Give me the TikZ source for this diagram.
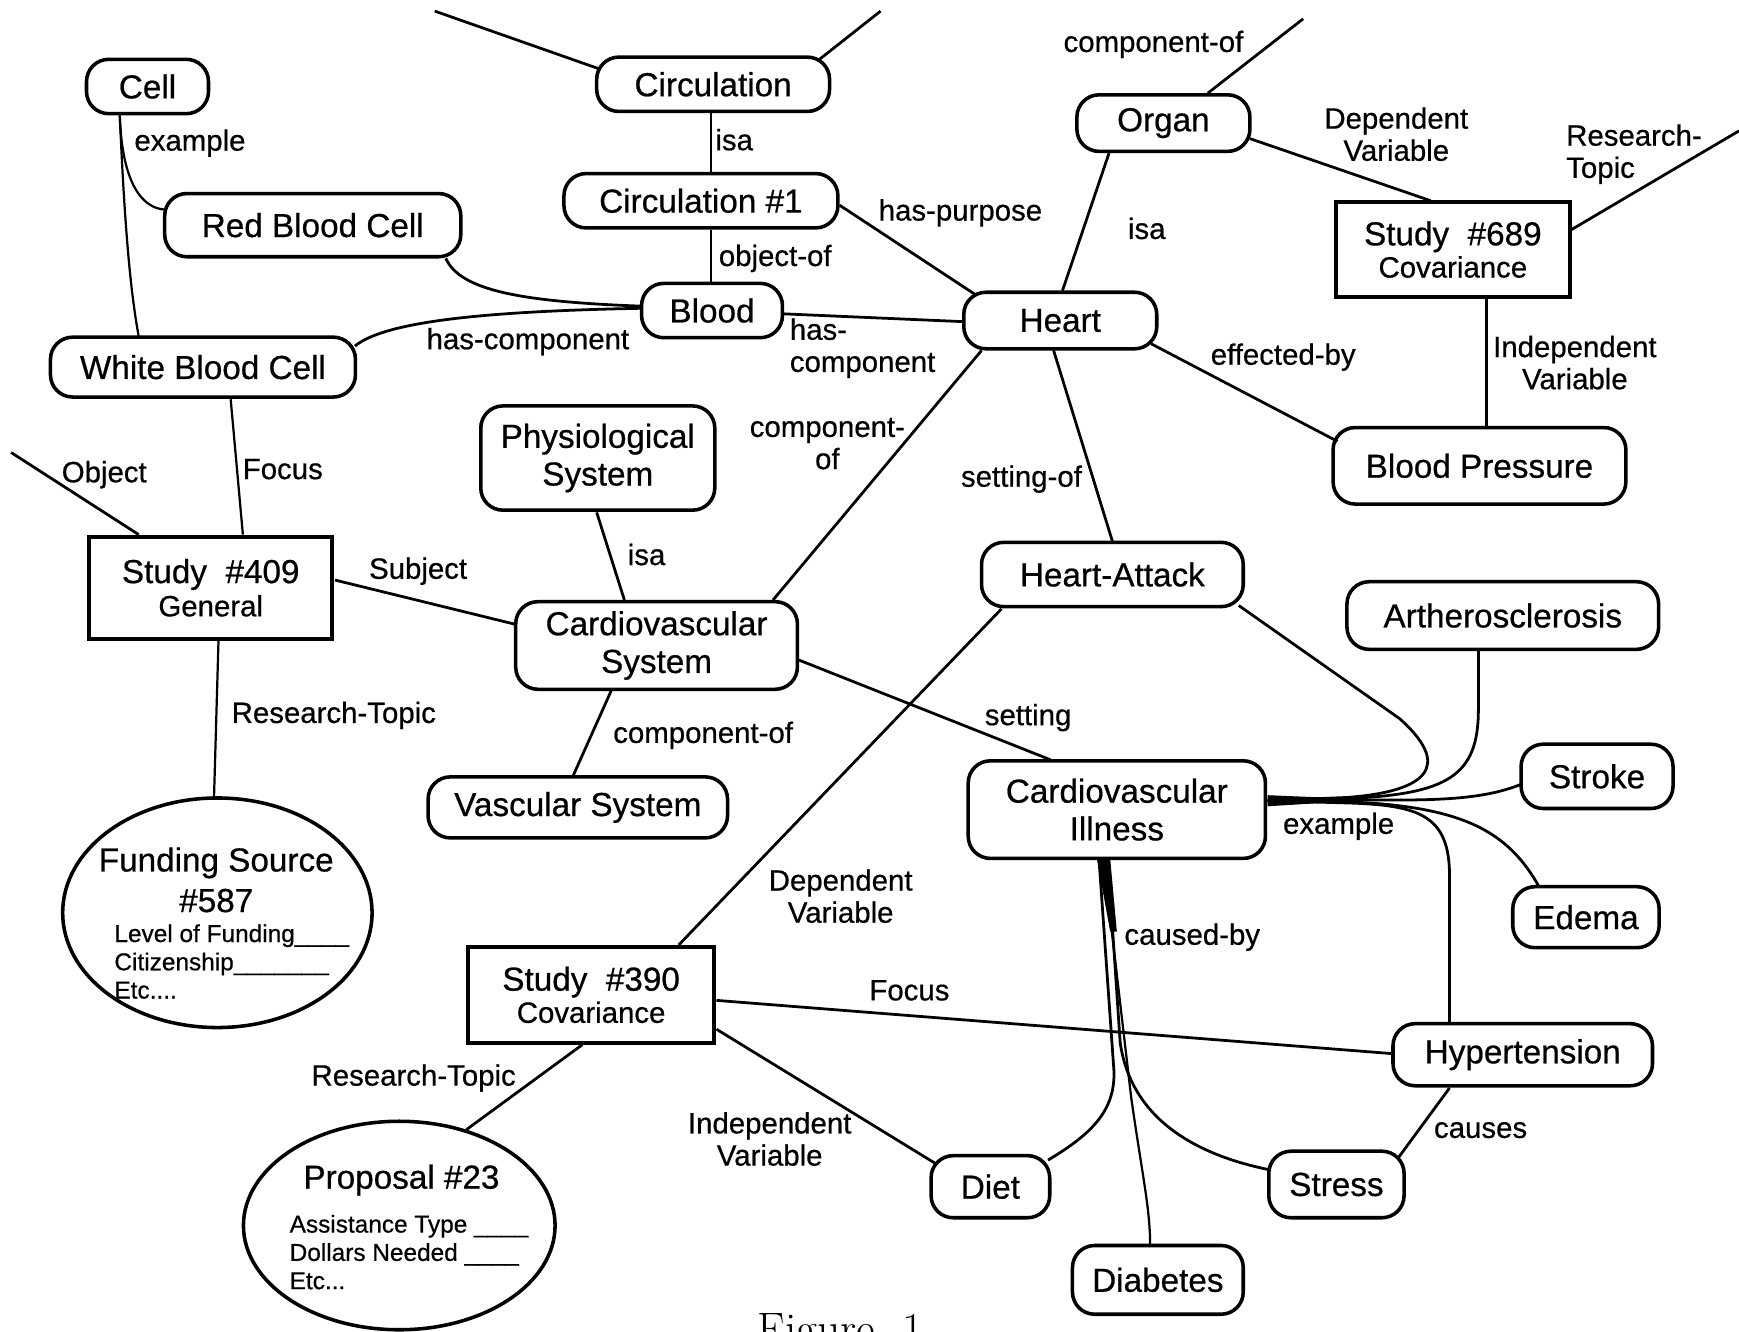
\documentclass[tikz,border=0pt]{standalone}
\usepackage{fontspec}
\newfontfamily\hel[FakeBold=0.6]{Liberation Sans}
\usetikzlibrary{calc,shapes.geometric}
\tikzset{
  rnode/.style={draw, line width=3.2pt, rounded corners=20pt, inner sep=0pt, align=center,
    font=\hel\fontsize{30}{34}\selectfont},
  snode/.style={draw, line width=3.6pt, inner sep=0pt, align=center,
    font=\hel\fontsize{30}{32}\selectfont},
  enode/.style={draw, ellipse, line width=3.2pt, inner sep=0pt},
  big/.style={inner sep=0pt, font=\hel\fontsize{30}{34}\selectfont},
  small/.style={inner sep=0pt, align=left, font=\hel\fontsize{22}{25.5}\selectfont},
  lab/.style={inner sep=0pt, align=center, font=\hel\fontsize{26.5}{29}\selectfont},
  conn/.style={line width=2.5pt},
  thinconn/.style={line width=2pt},
}
\newcommand{\sub}[1]{{\fontsize{26.5}{30}\selectfont #1}}
\begin{document}
\begin{tikzpicture}[x=1pt,y=-1pt]
\useasboundingbox (0,0) rectangle (1568,1201);

% ---------- nodes ----------
\node[rnode, minimum width=110, minimum height=49] (cell) at (133,78) {Cell};
\node[rnode, minimum width=210, minimum height=49] (circ) at (643,76) {Circulation};
\node[rnode, minimum width=247, minimum height=49] (circ1) at (632,181) {Circulation \#1};
\node[rnode, minimum width=267, minimum height=57] (rbc) at (282,203) {Red Blood Cell};
\node[rnode, minimum width=127, minimum height=49] (blood) at (642,280) {Blood};
\node[rnode, minimum width=174, minimum height=51] (heart) at (956,289) {Heart};
\node[rnode, minimum width=156, minimum height=51] (organ) at (1049,111) {Organ};
\node[rnode, minimum width=275, minimum height=54] (wbc) at (183,331) {White Blood Cell};
\node[rnode, minimum width=211, minimum height=94] (phys) at (539,413) {Physiological\\System};
\node[rnode, minimum width=254, minimum height=79] (cvs) at (592,582) {Cardiovascular\\System};
\node[rnode, minimum width=270, minimum height=55] (vas) at (521,728) {Vascular System};
\node[rnode, minimum width=264, minimum height=69] (bp) at (1334,420) {Blood Pressure};
\node[rnode, minimum width=236, minimum height=58] (ha) at (1003,518) {Heart-Attack};
\node[rnode, minimum width=281, minimum height=61] (ath) at (1355,555) {Artherosclerosis};
\node[rnode, minimum width=268, minimum height=88] (cvi) at (1007,730) {Cardiovascular\\Illness};
\node[rnode, minimum width=137, minimum height=58] (stroke) at (1440,700) {Stroke};
\node[rnode, minimum width=132, minimum height=55] (edema) at (1430,827) {Edema};
\node[rnode, minimum width=234, minimum height=56] (hyp) at (1373,951) {Hypertension};
\node[rnode, minimum width=107, minimum height=56] (diet) at (893,1070) {Diet};
\node[rnode, minimum width=122, minimum height=60] (stress) at (1205,1068) {Stress};
\node[rnode, minimum width=154, minimum height=62] (diab) at (1044,1154) {Diabetes};

\node[snode, minimum width=211, minimum height=85] (s689) at (1310,225) {Study\ \ \#689\\[-3pt]\sub{Covariance}};
\node[snode, minimum width=219, minimum height=92] (s409) at (190,530) {Study\ \ \#409\\[-2pt]\sub{General}};
\node[snode, minimum width=222, minimum height=86] (s390) at (533,897) {Study\ \ \#390\\[-3pt]\sub{Covariance}};

\node[enode, minimum width=279, minimum height=207] (fund) at (196,823) {};
\node[big] (fundt1) at (195,778) {Funding Source};
\node[big] (fundt2) at (195,812) {\#587};
\node[small, anchor=west] (fundt3) at (103,867) {Level of Funding\_\_\_\_\\Citizenship\_\_\_\_\_\_\_\\Etc....};

\node[enode, minimum width=281, minimum height=188] (prop) at (360,1105) {};
\node[big] (propt1) at (362,1064) {Proposal \#23};
\node[small, anchor=west] (propt2) at (261,1129) {Assistance Type \_\_\_\_\\Dollars Needed \_\_\_\_\\Etc...};

\node[inner sep=0pt, anchor=base west, font=\fontsize{41}{45}\selectfont] (fig) at (683,1212) {Figure~~1};

% free ends
\coordinate (t1) at (392,10);
\coordinate (t2) at (794,10);
\coordinate (t3) at (1175,17);
\coordinate (t4) at (1568,118);
\coordinate (t5) at (10,408);

% ---------- connectors ----------
\draw[conn] (t1) -- ($(circ)+(-103,-14)$);
\draw[conn] ($(circ)+(94,-21)$) -- (t2);
\draw[conn] ($(circ.south)+(-2,0)$) -- ($(circ1.north)+(9,0)$);
\draw[conn] ($(circ1.south)+(9,0)$) -- ($(blood.north)+(-1,0)$);
\draw[conn] ($(circ1)+(125,4)$) -- ($(heart)+(-76,-23)$);
\draw[conn] ($(blood)+(65,3)$) -- ($(heart)+(-88,1)$);
\draw[thinconn] ($(cell)+(-25,26)$) .. controls (110,165) and (128,188) .. ($(rbc)+(-133,-14)$);
\draw[thinconn] ($(cell)+(-25,26)$) .. controls (113,220) and (119,270) .. ($(wbc)+(-58,-28)$);
\draw[conn] ($(rbc)+(120,30)$) .. controls (415,262) and (470,272) .. ($(blood)+(-65,-4)$);
\draw[conn] ($(wbc)+(137,-19)$) .. controls (345,292) and (420,281) .. ($(blood)+(-65,-2)$);
\draw[conn] ($(organ)+(40,-27)$) -- (t3);
\draw[conn] ($(organ)+(-49,27)$) -- ($(heart)+(2,-27)$);
\draw[conn] ($(organ)+(78,14)$) -- ($(s689)+(-20,-44)$);
\draw[conn] ($(s689)+(107,-18)$) -- (t4);
\draw[conn] ($(s689)+(30,45)$) -- ($(bp)+(6,-36)$);
\draw[conn] ($(heart)+(82,21)$) -- ($(bp)+(-128,-22)$);
\draw[conn] ($(heart)+(-71,27)$) -- ($(cvs)+(105,-41)$);
\draw[conn] ($(heart)+(-6,27)$) -- ($(ha)+(0,-30)$);
\draw[thinconn] ($(wbc)+(25,29)$) -- ($(s409)+(29,-48)$);
\draw[conn] (t5) -- ($(s409)+(-65,-48)$);
\draw[conn] ($(s409)+(112,-7)$) -- ($(cvs)+(-127,-19)$);
\draw[thinconn] ($(s409)+(7,48)$) -- ($(fund)+(-3,-105)$);
\draw[conn] ($(phys)+(-1,49)$) -- ($(cvs)+(-29,-41)$);
\draw[conn] ($(cvs)+(-41,41)$) -- ($(vas)+(-4,-29)$);
\draw[conn] ($(cvs)+(128,13)$) -- ($(cvi)+(-60,-45)$);
\draw[conn] ($(ha)+(-100,31)$) -- ($(s390)+(79,-45)$);
% example fan
\draw[conn] ($(ha)+(114,28)$) -- (1262,648) .. controls (1298,680) and (1306,712) .. (1215,719) -- ($(cvi)+(136,-8)$);
\draw[conn] ($(ath)+(-22,32)$) -- (1333,640) .. controls (1333,700) and (1305,716) .. (1215,720) -- ($(cvi)+(136,-8)$);
\draw[conn] ($(stroke)+(-68,7)$) .. controls (1335,722) and (1290,722) .. (1215,721) -- ($(cvi)+(136,-8)$);
\draw[conn] ($(edema)+(-42,-27)$) .. controls (1360,750) and (1320,727) .. (1215,723) -- ($(cvi)+(136,-8)$);
\draw[conn] ($(hyp)+(-66,-29)$) -- (1307,790) .. controls (1307,735) and (1280,726) .. (1215,724) -- ($(cvi)+(136,-8)$);
\fill ($(cvi)+(136,-13)$) -- ($(cvi)+(233,-9)$) -- ($(cvi)+(136,-3)$) -- cycle;
% caused-by bundle
\draw[conn] ($(cvi)+(-16,46)$) -- (1004,960) .. controls (1008,1000) and (985,1022) .. ($(diet)+(52,-24)$);
\draw[thinconn] ($(cvi)+(-12,46)$) -- (1020,990) .. controls (1030,1060) and (1037,1090) .. ($(diab)+(-7,-32)$);
\draw[conn] ($(cvi)+(-8,46)$) -- (1010,940) .. controls (1020,1010) and (1080,1042) .. ($(stress)+(-59,-13)$);
\fill ($(cvi)+(-18,44)$) -- ($(cvi)+(-6,44)$) -- ($(cvi)+(0,110)$) -- ($(cvi)+(-6,110)$) -- cycle;
\draw[conn] ($(hyp)+(-66,30)$) -- ($(stress)+(55,-23)$);
\draw[conn] ($(s390)+(113,5)$) -- ($(hyp)+(-118,-1)$);
\draw[conn] ($(s390)+(113,31)$) -- ($(diet)+(-48,-20)$);
\draw[conn] ($(s390)+(-8,45)$) -- (prop.55);

% ---------- labels ----------
\node[lab, anchor=west] (l1) at (121,129) {example};
\node[lab] (l2) at (662,126) {isa};
\node[lab] (l3) at (699,233) {object-of};
\node[lab] (l4) at (866,192) {has-purpose};
\node[lab] (l5) at (476,308) {has-component};
\node[lab, anchor=west, align=left] (l6) at (712,314) {has-\\component};
\node[lab] (l7) at (1040,40) {component-of};
\node[lab] (l8) at (1034,206) {isa};
\node[lab] (l9) at (1259,121) {Dependent\\Variable};
\node[lab, anchor=west, align=left] (l10) at (1412,139) {Research-\\Topic};
\node[lab] (l11) at (1157,322) {effected-by};
\node[lab] (l12) at (1420,327) {Independent\\Variable};
\node[lab] (l13) at (746,400) {component-\\of};
\node[lab] (l14) at (921,432) {setting-of};
\node[lab] (l15) at (94,428) {Object};
\node[lab] (l16) at (255,423) {Focus};
\node[lab] (l17) at (377,515) {Subject};
\node[lab] (l18) at (583,500) {isa};
\node[lab] (l19) at (301,645) {Research-Topic};
\node[lab] (l20) at (634,663) {component-of};
\node[lab] (l21) at (927,647) {setting};
\node[lab] (l22) at (1207,745) {example};
\node[lab] (l23) at (758,808) {Dependent\\Variable};
\node[lab] (l24) at (1075,845) {caused-by};
\node[lab] (l25) at (820,893) {Focus};
\node[lab] (l26) at (373,972) {Research-Topic};
\node[lab] (l27) at (694,1027) {Independent\\Variable};
\node[lab] (l28) at (1335,1019) {causes};
\end{tikzpicture}
\end{document}
